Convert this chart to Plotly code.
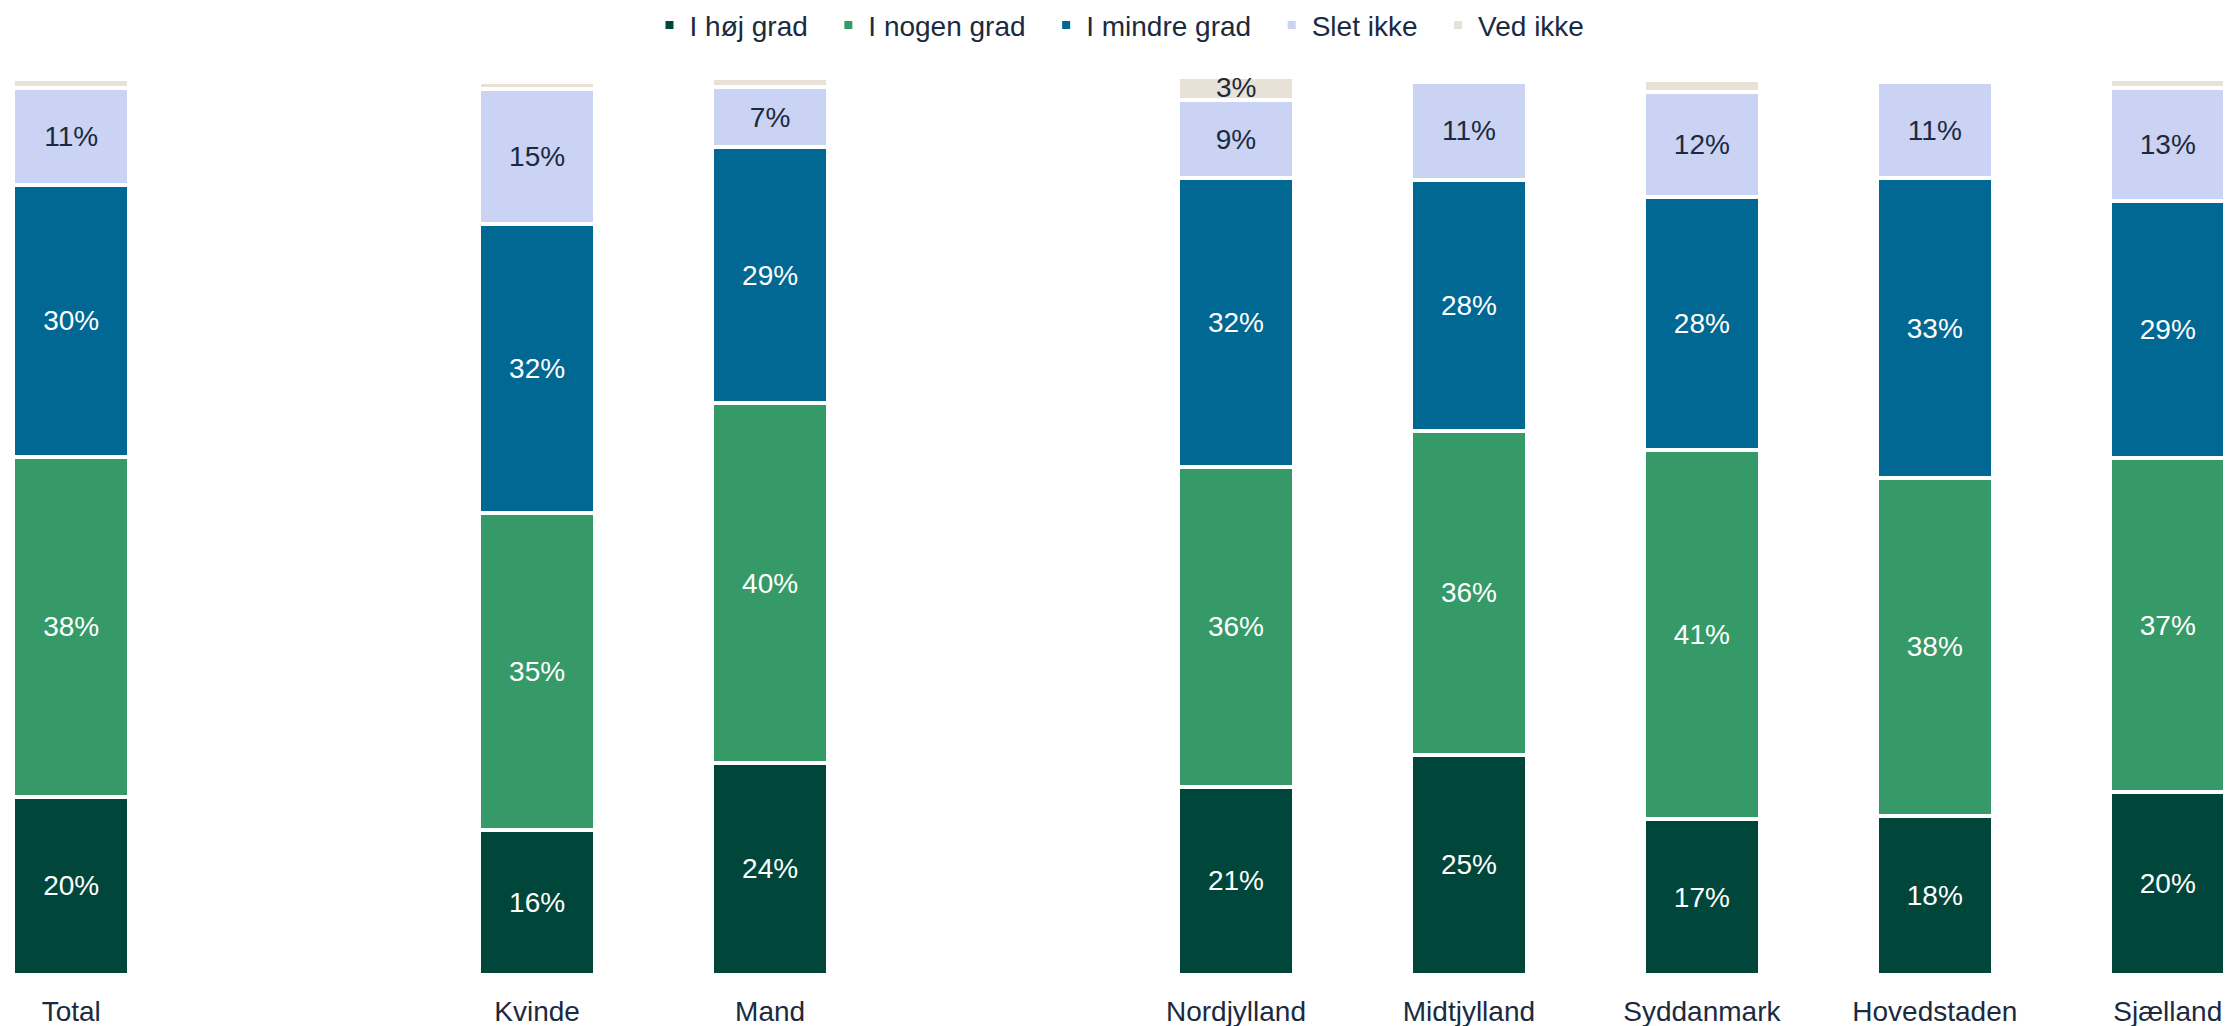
import plotly.graph_objects as go

categories = ["Total", " ", "Kvinde", "Mand", "  ", "Nordjylland", "Midtjylland",
              "Syddanmark", "Hovedstaden", "Sjælland"]
series_names = ["I høj grad", "I nogen grad", "I mindre grad", "Slet ikke", "Ved ikke"]
hoej_grad = [19.9, None, 16.2, 23.7, None, 21.0, 24.6, 17.4, 17.8, 20.4]
nogen_grad = [37.9, None, 35.4, 40.1, None, 35.7, 36.1, 41.2, 37.7, 37.3]
mindre_grad = [30.4, None, 32.2, 28.6, None, 32.2, 28.0, 28.2, 33.4, 28.7]
slet_ikke = [10.8, None, 15.1, 6.7, None, 8.8, 11.0, 11.8, 10.8, 12.6]
ved_ikke = [1.0, None, 0.8, 1.0, None, 2.6, 0.3, 1.3, 0.0, 1.0]

series_values = [hoej_grad, nogen_grad, mindre_grad, slet_ikke, ved_ikke]
colors = ["#00463a", "#359a68", "#006892", "#cad3f3", "#e7e1d6"]
text_colors = ["#ffffff", "#ffffff", "#ffffff", "#1b2a3f", "#1b2a3f"]

FONT = "Liberation Sans"
DARK = "#1b2a3f"
PAD = "\u00a0\u00a0"

fig = go.Figure()
n_series = len(series_names)
for k, (name, vals, col, tcol) in enumerate(zip(series_names, series_values, colors, text_colors)):
    is_top = k == n_series - 1
    labels = ["" if (v is None or v < 2 or is_top) else f"{v:.0f}%" for v in vals]
    fig.add_trace(go.Bar(
        name=name if is_top else name + PAD,
        x=categories,
        y=vals,
        text=labels,
        texttemplate="%{text}",
        textposition="inside",
        insidetextanchor="middle",
        textangle=0,
        constraintext="none",
        textfont=dict(family=FONT, size=28, color=tcol),
        marker=dict(color=col, line=dict(color="#ffffff", width=4)),
        width=0.5,
        cliponaxis=False,
        hoverinfo="skip",
    ))

# labels for the thin top segment (too small for plotly's inside text)
for i, cat in enumerate(categories):
    v = ved_ikke[i]
    if v is None or v < 2:
        continue
    below = sum(s[i] for s in series_values[:-1])
    fig.add_annotation(
        x=cat, y=below + v / 2, xref="x", yref="y",
        text=f"{v:.0f}%", showarrow=False,
        font=dict(family=FONT, size=28, color=text_colors[-1]),
        xanchor="center", yanchor="middle",
    )

fig.update_layout(
    barmode="stack",
    width=2223,
    height=1018,
    margin=dict(l=5, r=5, t=71, b=51, autoexpand=False),
    paper_bgcolor="#ffffff",
    plot_bgcolor="#ffffff",
    font=dict(family=FONT, size=28, color=DARK),
    showlegend=True,
    legend=dict(
        orientation="h",
        xref="container", yref="container",
        x=0.5, xanchor="center",
        y=0.983, yanchor="middle",
        font=dict(family=FONT, size=28, color=DARK),
        traceorder="normal",
    ),
    xaxis=dict(
        type="category",
        categoryorder="array",
        categoryarray=categories,
        range=[-0.25, 9.25],
        showgrid=False, showline=False, zeroline=False, ticks="",
        ticklabelstandoff=17,
        tickfont=dict(family=FONT, size=28, color=DARK),
    ),
    yaxis=dict(
        range=[0, 100],
        visible=False,
        showgrid=False, zeroline=False,
    ),
)

fig.write_html("out.html")
